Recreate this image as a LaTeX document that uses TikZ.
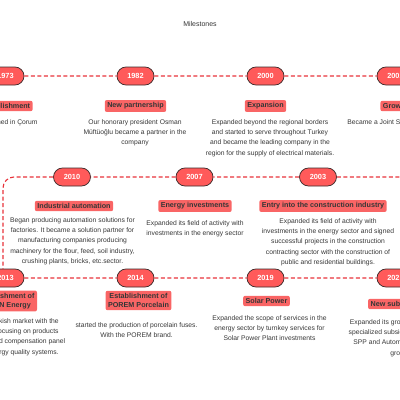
\documentclass[tikz,border=0pt]{standalone}
\usepackage{fontspec}
\setmainfont{Liberation Sans}
\usetikzlibrary{shapes.misc}
\definecolor{pillred}{HTML}{FF5A5A}
\definecolor{pilledge}{HTML}{3B2B2B}
\definecolor{labred}{HTML}{F96565}
\definecolor{dashred}{HTML}{E8323A}
\definecolor{txt}{HTML}{363636}
\tikzset{
 year/.style={rounded rectangle, fill=pillred, draw=pilledge, line width=0.75pt, minimum width=37pt, minimum height=18pt, text=white, font=\fontsize{7.4}{8}\selectfont\bfseries, inner sep=0pt},
 lab/.style={fill=labred, rounded corners=2pt, text=txt, font=\fontsize{7.2}{9}\selectfont\bfseries, inner xsep=2.5pt, inner ysep=2.6pt, align=center},
 desc/.style={text=txt, font=\fontsize{6.75}{10.4}\selectfont, align=center, inner sep=0pt, anchor=north},
 dline/.style={draw=dashred, line width=1.1pt, dash pattern=on 4pt off 2.5pt},
 ttl/.style={text=txt, font=\fontsize{7}{8}\selectfont}
}
\begin{document}
\begin{tikzpicture}[x=1pt,y=-1pt]
\useasboundingbox (0,0) rectangle (400,400);
\clip (0,0) rectangle (400,400);
\node[ttl] (title) at (200,24) {Milestones};
% row 1
\node[year] (y1973) at (5.5,76) {1973};
\node[year] (y1982) at (135.5,76) {1982};
\node[year] (y2000) at (265.5,76) {2000};
\node[year] (y2002) at (395.5,76) {2002};
\node[lab] (l1973) at (5.5,106) {Establishment};
\node[lab] (l1982) at (135.5,106) {New partnership};
\node[lab] (l2000) at (265.5,106) {Expansion};
\node[lab] (l2002) at (395.5,106) {Growth};
\node[desc] (d1973) at (5.5,119) {Established in Çorum};
\node[desc] (d1982) at (135,119) {Our honorary president Osman\\Müftüoğlu became a partner in the\\company};
\node[desc] (d2000) at (270,119) {Expanded beyond the regional borders\\and started to serve throughout Turkey\\and became the leading company in the\\region for the supply of electrical materials.};
\node[desc] (d2002) at (395.5,119) {Became a Joint Stock Company};
% row 2
\node[year] (y2010) at (72,177) {2010};
\node[year] (y2007) at (194.5,177) {2007};
\node[year] (y2003) at (318,177) {2003};
\node[lab] (l2010) at (74,206) {Industrial automation};
\node[lab] (l2007) at (195,206) {Energy investments};
\node[lab] (l2003) at (323,206) {Entry into the construction industry};
\node[desc] (d2010) at (72.5,217) {Began producing automation solutions for\\factories. It became a solution partner for\\manufacturing companies producing\\machinery for the flour, feed, soil industry,\\crushing plants, bricks, etc.sector.};
\node[desc] (d2007) at (195,220) {Expanded its field of activity with\\investments in the energy sector};
\node[desc] (d2003) at (328,218) {Expanded its field of activity with\\investments in the energy sector and signed\\successful projects in the construction\\contracting sector with the construction of\\public and residential buildings.};
% row 3
\node[year] (y2013) at (5.5,278) {2013};
\node[year] (y2014) at (135.5,278) {2014};
\node[year] (y2019) at (265.5,278) {2019};
\node[year] (y2021) at (395.5,278) {2021};
\node[lab] (l2013) at (5.5,301) {Establishment of\\ELSAN Energy};
\node[lab] (l2014) at (138.5,300.5) {Establishment of\\POREM Porcelain};
\node[lab] (l2019) at (266.5,301) {Solar Power};
\node[lab] (l2021) at (400,304) {New subsidiaries};
\node[desc] (d2013) at (5.5,318) {Entered the Turkish market with the\\its own brand, focusing on products\\reactive power and compensation panel\\boards and energy quality systems.};
\node[desc] (d2014) at (136.5,322) {started the production of porcelain fuses.\\With the POREM brand.};
\node[desc] (d2019) at (269.5,315) {Expanded the scope of services in the\\energy sector by turnkey services for\\Solar Power Plant investments};
\node[desc] (d2021) at (400,319) {Expanded its group structure with\\specialized subsidiaries in Energy,\\SPP and Automation within the\\group.};
% connectors
\coordinate (r2end) at (400,177);
\draw[dline] (y2003) -- (r2end);
\draw[dline] (y1973) -- (y1982);
\draw[dline] (y1982) -- (y2000);
\draw[dline] (y2000) -- (y2002);
\draw[dline] (y2003) -- (y2007);
\draw[dline] (y2007) -- (y2010);
\draw[dline, rounded corners=11pt] (y2010.west) -| ([xshift=-2.5pt]y2013.north);
\draw[dline] (y2013) -- (y2014);
\draw[dline] (y2014) -- (y2019);
\draw[dline] (y2019) -- (y2021);
\end{tikzpicture}
\end{document}
